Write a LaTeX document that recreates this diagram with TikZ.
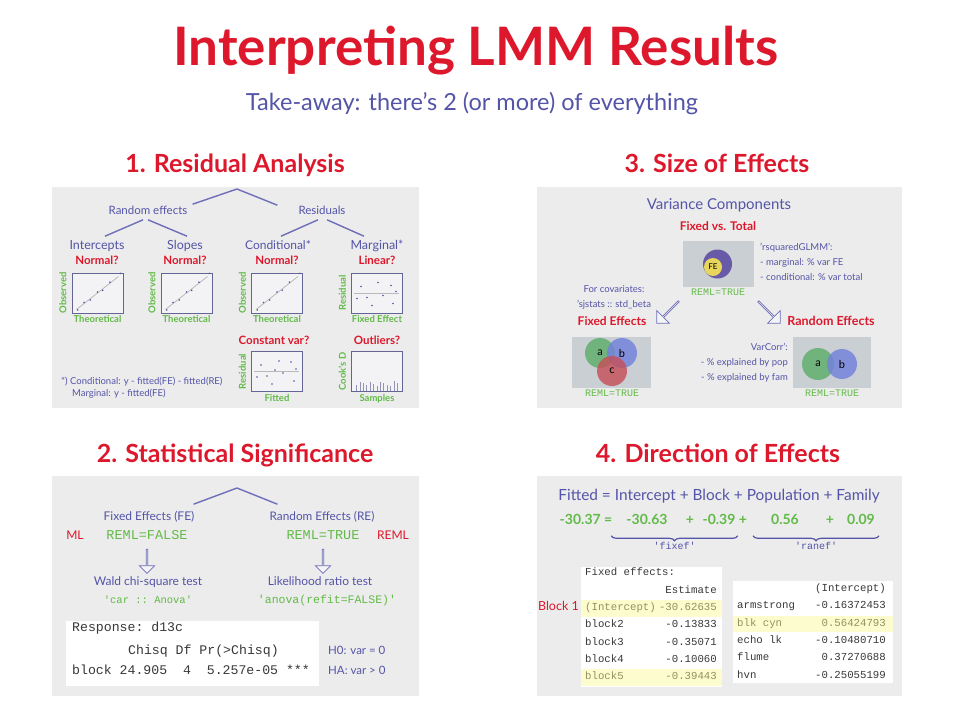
\documentclass[tikz,border=0pt]{standalone}
\usepackage{fontspec}
\setmainfont{Lato}
\setmonofont{Liberation Mono}
\usetikzlibrary{positioning,calc,shapes.arrows,decorations.pathreplacing}

\definecolor{hdred}{RGB}{221,24,44}
\definecolor{inkblue}{RGB}{84,84,168}
\definecolor{branchblue}{RGB}{110,110,185}
\definecolor{rgreen}{RGB}{98,186,72}
\definecolor{panelgray}{RGB}{236,236,236}
\definecolor{plotfill}{RGB}{243,243,245}
\definecolor{plotedge}{RGB}{100,100,150}
\definecolor{venngray}{RGB}{201,207,211}
\definecolor{vgreen}{RGB}{92,172,104}
\definecolor{vblue}{RGB}{112,128,222}
\definecolor{vred}{RGB}{198,78,88}
\definecolor{fepurple}{RGB}{104,90,166}
\definecolor{feyellow}{RGB}{232,214,92}
\definecolor{codegray}{RGB}{56,56,56}
\definecolor{hilite}{RGB}{252,252,206}
\definecolor{hiltext}{RGB}{146,146,96}

\newcommand{\fsz}[1]{\fontsize{#1}{#1}\selectfont}

\begin{document}
\begin{tikzpicture}[x=1pt, y=-1pt, >=stealth,
  title/.style={font=\fsz{53}\bfseries, text=hdred},
  subtitle/.style={font=\fsz{23.5}, text=inkblue},
  head/.style={font=\fsz{25}\bfseries, text=hdred},
  t/.style={inner sep=1pt, text height=.72em, text depth=.2em},
  txt/.style={t, font=\fsz{#1}, text=inkblue}, txt/.default=11.5,
  ask/.style={t, font=\fsz{#1}\bfseries, text=hdred}, ask/.default=11.5,
  ax/.style={t, font=\fsz{9.5}\bfseries, text=rgreen},
  code/.style={t, font=\fsz{#1}\ttfamily, text=rgreen}, code/.default=10,
  out/.style={t, font=\fsz{#1}\ttfamily, text=codegray}, out/.default=10.7,
  plotbox/.style={draw=plotedge, line width=1pt, fill=plotfill, minimum width=51, minimum height=40, inner sep=0},
  branch/.style={draw=branchblue, line width=1.4pt},
  hollow/.style={single arrow, draw=branchblue, line width=.7pt, fill=white!40!panelgray, minimum height=24, minimum width=15, single arrow head extend=3.5, inner sep=0, rotate=#1},
  venn/.style={circle, fill=#1, fill opacity=.8, text opacity=1, minimum size=30, inner sep=0, font=\fsz{11}},
  brace/.style={decorate, decoration={brace, mirror, amplitude=5pt}, draw=inkblue, line width=1.2pt}]

\useasboundingbox[fill=white] (0,0) rectangle (960,720);

\node[title, anchor=base] (ttl) at (476,65) {Interpreting LMM Results};
\node[subtitle, anchor=base] (sub) at (472,110) {Take-away: there's 2 (or more) of everything};

\node[head, anchor=base] (h1) at (235,172) {1. Residual Analysis};
\node[head, anchor=base] (h3) at (717,172) {3. Size of Effects};
\node[head, anchor=base] (h2) at (235,462) {2. Statistical Significance};
\node[head, anchor=base] (h4) at (718,462) {4. Direction of Effects};

\fill[panelgray] (52,187) rectangle (419,408);
\fill[panelgray] (537,187) rectangle (902,408);
\fill[panelgray] (52,476) rectangle (419,696);
\fill[panelgray] (537,476) rectangle (902,696);

% 1. residual analysis
\coordinate (top1) at (237,189);
\node[txt] (re) at (148,212) {Random effects};
\node[txt] (res) at (322,212) {Residuals};
\draw[branch] (top1) -- ([xshift=4pt,yshift=2pt]re.north east);
\draw[branch] (top1) -- ([xshift=-20pt,yshift=1pt]res.north west);

\node[txt=12.5] (int) at (97,247) {Intercepts};
\node[txt=12.5] (slo) at (185,247) {Slopes};
\node[txt=12] (cond) at (278,247) {Conditional*};
\node[txt=12.5] (marg) at (377,247) {Marginal*};
\draw[branch] ([xshift=-5pt,yshift=-2pt]re.south) -- ([xshift=8pt,yshift=5pt]int.north);
\draw[branch] ([yshift=-2pt]re.south) -- ([xshift=2pt,yshift=5pt]slo.north);
\draw[branch] ([xshift=-4pt,yshift=-2pt]res.south) -- ([xshift=3pt,yshift=5pt]cond.north);
\draw[branch] ([xshift=5pt,yshift=-2pt]res.south) -- ([xshift=-13pt,yshift=5pt]marg.north);

\node[ask] (nint) at (97,262) {Normal?};
\node[ask] (nslo) at (185,262) {Normal?};
\node[ask] (ncond) at (277,262) {Normal?};
\node[ask] (lmarg) at (377,262) {Linear?};
\node[ask] (cvar) at (274,342) {Constant var?};
\node[ask] (outl) at (377,342) {Outliers?};

\node[plotbox] (p1) at (97.5,293) {};
\node[plotbox] (p2) at (186.5,293) {};
\node[plotbox] (p3) at (277,293) {};
\node[plotbox] (p4) at (377,293) {};
\node[plotbox] (p5) at (277,371.5) {};
\node[plotbox] (p6) at (377,371.5) {};

\foreach \p/\yl/\xl in {p1/Observed/Theoretical, p2/Observed/Theoretical, p3/Observed/Theoretical,
                       p4/Residual/Fixed Effect, p5/Residual/Fitted, p6/Cook's D/Samples} {
  \node[ax, rotate=90, anchor=south] (\p y) at ([xshift=-2pt]\p.west) {\yl};
  \node[ax, below=1pt of \p] (\p x) {\xl};
}

\foreach \p in {p1,p2,p3} {
  \draw[gray!55, line width=.8pt] ([shift={(5,-4)}]\p.south west) -- ([shift={(-5,4)}]\p.north east);
  \foreach \s/\d in {.12/1.5,.24/-1.2,.36/1.2,.5/-1,.6/1.4,.74/-1,.94/-1.5}
    \fill[inkblue] ($(\p.south west)!\s!(\p.north east)$) ++(0,\d) circle (.9);
}
\begin{scope}[shift={(p4.north west)}]
  \draw[gray!55, line width=1pt] (3,21) -- (48,21);
  \foreach \px/\py in {10/14,27/10,40/13,6/26,16/25,32/23,45/19,21/33,42/31}
    \fill[inkblue] (\px,\py) circle (.9);
\end{scope}
\begin{scope}[shift={(p5.north west)}]
  \draw[gray!55, line width=1pt] (3,20) -- (48,20);
  \foreach \px/\py in {10/14,28/10,40/11,24/19,6/26,16/25,32/22,45/18,21/33,43/30}
    \fill[inkblue] (\px,\py) circle (.9);
\end{scope}
\begin{scope}[shift={(p6.south west)}]
  \foreach \i/\h in {1/6,2/9,3/8,4/6,5/9,6/7,7/5,8/9,9/8,10/6,11/5,12/10,13/8}
    \draw[plotedge!70, line width=.6pt] (2+\i*3.4,-1) -- ++(0,-\h);
\end{scope}

\node[txt=9.5, anchor=west] (fn1) at (60,382) {*) Conditional: y - fitted(FE) - fitted(RE)};
\node[txt=9.5, anchor=west] (fn2) at (71,394) {Marginal: y - fitted(FE)};

% 3. size of effects
\node[txt=15] (vc) at (719,207) {Variance Components};
\node[ask=12] (fvt) at (718,228) {Fixed vs. Total};
\node[fill=venngray, minimum width=71, minimum height=46, inner sep=0] (febox) at (718.5,264) {};
\node[circle, fill=fepurple, minimum size=29, inner sep=0] (tot) at (717.5,264) {};
\node[circle, fill=feyellow, minimum size=18, inner sep=0, font=\fsz{8}] (fe) at (713,267) {FE};
\node[code] (remla) at (718,293) {REML=TRUE};
\node[txt=9.5, anchor=west] (rsq1) at (759,248) {'rsquaredGLMM':};
\node[txt=9.5, anchor=west] (rsq2) at (759,263) {- marginal: \% var FE};
\node[txt=9.5, anchor=west] (rsq3) at (759,278) {- conditional: \% var total};

\node[txt=9.5] (cov1) at (614,290) {For covariates:};
\node[txt=9.5] (cov2) at (614,305) {'sjstats :: std\_beta};
\node[hollow=225, minimum height=31, minimum width=18] (arl) at (668,312) {};
\node[hollow=315, minimum height=31, minimum width=18] (arr) at (769,312) {};
\node[ask=12] (fxe) at (612,323) {Fixed Effects};
\node[ask=12.5] (rne) at (831,323) {Random Effects};

\node[fill=venngray, minimum width=79, minimum height=51, inner sep=0] (fxbox) at (611.5,362.5) {};
\node[venn=vgreen] (fa) at (600,353) {a};
\node[venn=vblue] (fb) at (622,353) {b};
\node[venn=vred] (fc) at (612,371) {c};
\node[code] (remlb) at (612,394) {REML=TRUE};

\node[txt=9.5, anchor=east] (vcr1) at (789,348) {VarCorr':};
\node[txt=9.5, anchor=east] (vcr2) at (789,363) {- \% explained by pop};
\node[txt=9.5, anchor=east] (vcr3) at (789,378) {- \% explained by fam};
\node[fill=venngray, minimum width=78, minimum height=51, inner sep=0] (rnbox) at (832,362.5) {};
\node[venn=vgreen, minimum size=32] (ra) at (818,364) {a};
\node[venn=vblue] (rb) at (842,364) {b};
\node[code] (remlc) at (832,394) {REML=TRUE};

% 2. statistical significance
\coordinate (top2) at (237,488);
\node[txt=12] (fe2) at (149,518) {Fixed Effects (FE)};
\node[txt=11.8] (re2) at (322,518) {Random Effects (RE)};
\draw[branch] (top2) -- ([xshift=-2pt,yshift=8pt]fe2.north east);
\draw[branch] (top2) -- ([xshift=9pt,yshift=8pt]re2.north west);

\node[txt=12, text=hdred] (ml) at (75,537) {ML};
\node[code=13.5] (remlf) at (147,537) {REML=FALSE};
\node[code=13.5] (remlt) at (323,537) {REML=TRUE};
\node[txt=12, text=hdred] (reml) at (393,537) {REML};
\node[hollow=-90] (dfe) at (147,561) {};
\node[hollow=-90] (dre) at (323,561) {};
\node[txt=12] (wald) at (148,583) {Wald chi-square test};
\node[txt=12] (lrt) at (320,583) {Likelihood ratio test};
\node[code=10.5] (car) at (148,601) {'car :: Anova'};
\node[code=11.5] (anv) at (327,601) {'anova(refit=FALSE)'};

\node[fill=white, minimum width=253, minimum height=65, inner sep=0] (resp) at (192.5,653.5) {};
\node[out=13.2, anchor=west] (r1) at (71,629) {Response: d13c};
\node[out=13.2, anchor=west] (r2) at (127,652) {Chisq Df Pr(>Chisq)};
\node[out=13.2, anchor=west] (r3) at (71,672) {block 24.905~~4~~5.257e-05~***};
\node[txt=11.5, anchor=west] (h0) at (327,652) {H0: var = 0};
\node[txt=11.5, anchor=west] (ha) at (327,672) {HA: var > 0};

% 4. direction of effects
\node[txt=15.4] (fit) at (719,498) {Fitted = Intercept + Block + Population + Family};
\foreach \v/\x [count=\k] in {-30.37 =/586, -30.63/647, +/690, -0.39/719, +/743, 0.56/785, +/830, 0.09/861}
  \node[t, font=\fsz{14}\bfseries, text=rgreen] (v\k) at (\x,522) {\v};
\draw[brace] ([xshift=-14pt,yshift=-8pt]v2.south west) -- ([yshift=-8pt]v4.south east -| v5.west)
  node[code, midway, below=5pt, text=inkblue] (fxf) {'fixef'};
\draw[brace] ([xshift=-17pt,yshift=-8pt]v6.south west) -- ([xshift=3pt,yshift=-8pt]v8.south east)
  node[code, midway, below=5pt, text=inkblue] (rnf) {'ranef'};

\node[fill=white, minimum width=141, minimum height=120, inner sep=0] (fxtab) at (651.5,627) {};
\fill[hilite] (581,600) rectangle (722,617);
\fill[hilite] (581,669) rectangle (722,686);
\node[out, anchor=west] (ft0) at (584,573) {Fixed effects:};
\node[out, anchor=east] (ft1) at (718,591) {Estimate};
\node[out, anchor=west, text=hiltext] (ftl) at (584,608) {(Intercept)};
\node[out, anchor=east, text=hiltext] (ftv) at (718,608) {-30.62635};
\foreach \lab/\val [count=\k] in {block2/-0.13833, block3/-0.35071, block4/-0.10060} {
  \node[out, anchor=west] (fl\k) at (584,608+\k*17.3) {\lab};
  \node[out, anchor=east] (fv\k) at (718,608+\k*17.3) {\val};
}
\node[out, anchor=west, text=hiltext] (fl5) at (584,677) {block5};
\node[out, anchor=east, text=hiltext] (fv5) at (718,677) {-0.39443};
\node[txt=12.5, text=hdred, anchor=east] (blk) at (580,608) {Block 1};

\node[fill=white, minimum width=160, minimum height=102, inner sep=0] (rntab) at (813,632) {};
\fill[hilite] (733,616) rectangle (893,632);
\node[out, anchor=east] (rt0) at (887,589) {(Intercept)};
\foreach \lab/\val/\c [count=\k] in {armstrong/-0.16372453/codegray, blk~cyn/0.56424793/hiltext,
                                    echo~lk/-0.10480710/codegray, flume/0.37270688/codegray, hvn/-0.25055199/codegray} {
  \node[out, anchor=west, text=\c] (rl\k) at (736,589+\k*17.3) {\lab};
  \node[out, anchor=east, text=\c] (rv\k) at (887,589+\k*17.3) {\val};
}
\end{tikzpicture}
\end{document}
